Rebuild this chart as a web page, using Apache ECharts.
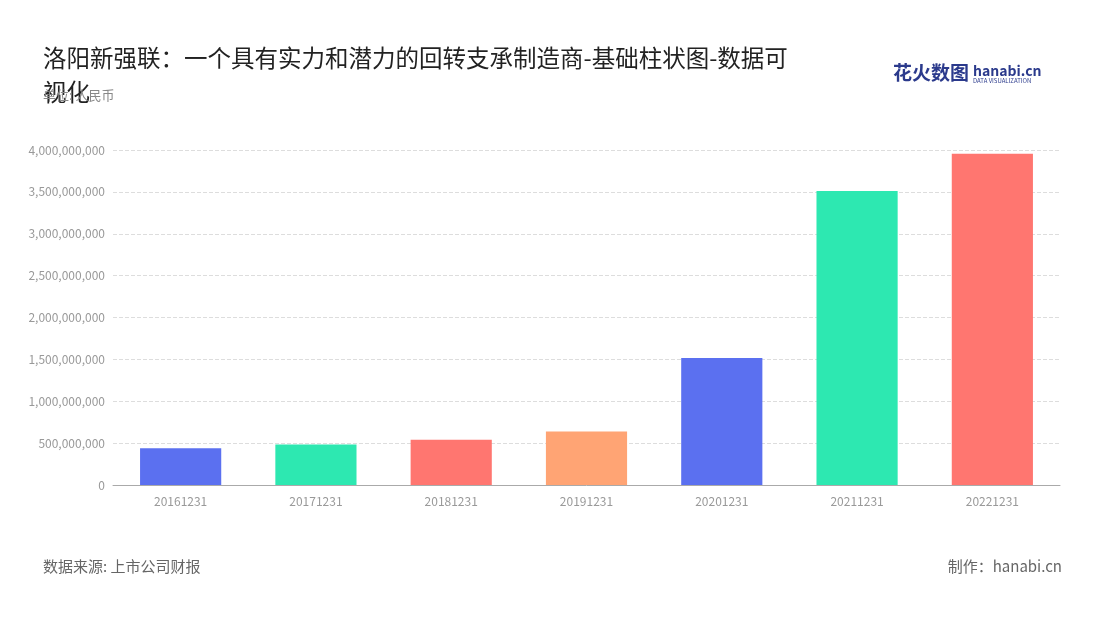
<!DOCTYPE html>
<html>
<head>
<meta charset="utf-8">
<script src="https://cdn.jsdelivr.net/npm/echarts@6/dist/echarts.min.js"></script>
<style>
  html, body { margin: 0; padding: 0; background: #fff; }
  #main { width: 1100px; height: 620px; }
</style>
</head>
<body>
<div id="main"></div>
<script>
var categories = ['20161231', '20171231', '20181231', '20191231', '20201231', '20211231', '20221231'];
var values = [440000000, 485000000, 540000000, 640000000, 1515000000, 3510000000, 3955000000];
var colors = ['#5B70F0', '#2DE8B1', '#FF7670', '#FFA474', '#5B70F0', '#2DE8B1', '#FF7670'];

var chart = echarts.init(document.getElementById('main'));
var font = '"Noto Sans CJK SC", "Noto Sans", sans-serif';
chart.setOption({
  textStyle: { fontFamily: font },
  title: [{
    text: '洛阳新强联：一个具有实力和潜力的回转支承制造商-基础柱状图-数据可\n视化',
    left: 38, top: 36,
    textStyle: { fontSize: 23.5, fontWeight: 'normal', color: '#222', lineHeight: 34, fontFamily: font }
  }, {
    text: '单位: 人民币', left: 38, top: 84,
    textStyle: { fontSize: 13, fontWeight: 'normal', color: '#888', fontFamily: font }
  }, {
    text: '数据来源: 上市公司财报', left: 38, top: 554,
    textStyle: { fontSize: 15, fontWeight: 'normal', color: '#666', fontFamily: font }
  }, {
    text: '制作：hanabi.cn', right: 33, top: 554,
    textStyle: { fontSize: 15, fontWeight: 'normal', color: '#666', fontFamily: font }
  }, {
    text: '花火数图', left: 888, top: 58,
    textStyle: { fontSize: 19, fontWeight: 'bold', color: '#2B3A8C', fontFamily: font }
  }, {
    text: 'hanabi.cn', left: 968, top: 59,
    subtext: 'DATA VISUALIZATION', itemGap: 0,
    textStyle: { fontSize: 14, fontWeight: 'bold', color: '#2B3A8C', fontFamily: font },
    subtextStyle: { fontSize: 6, color: '#2B3A8C' }
  }],
  grid: { left: 113, right: 40, top: 150, bottom: 135 },
  xAxis: {
    type: 'category',
    data: categories,
    axisLine: { lineStyle: { color: '#aaa' } },
    axisTick: { show: false },
    axisLabel: { color: '#999', fontSize: 12, margin: 10 }
  },
  yAxis: {
    type: 'value',
    min: 0, max: 4000000000, interval: 500000000,
    axisLine: { show: false },
    axisTick: { show: false },
    axisLabel: {
      color: '#999', fontSize: 12,
      formatter: function (v) { return v.toLocaleString('en-US'); }
    },
    splitLine: { lineStyle: { type: 'dashed', color: '#ddd' } }
  },
  series: [{
    type: 'bar',
    barWidth: '60%',
    data: values.map(function (v, i) { return { value: v, itemStyle: { color: colors[i] } }; })
  }]
});
</script>
</body>
</html>
